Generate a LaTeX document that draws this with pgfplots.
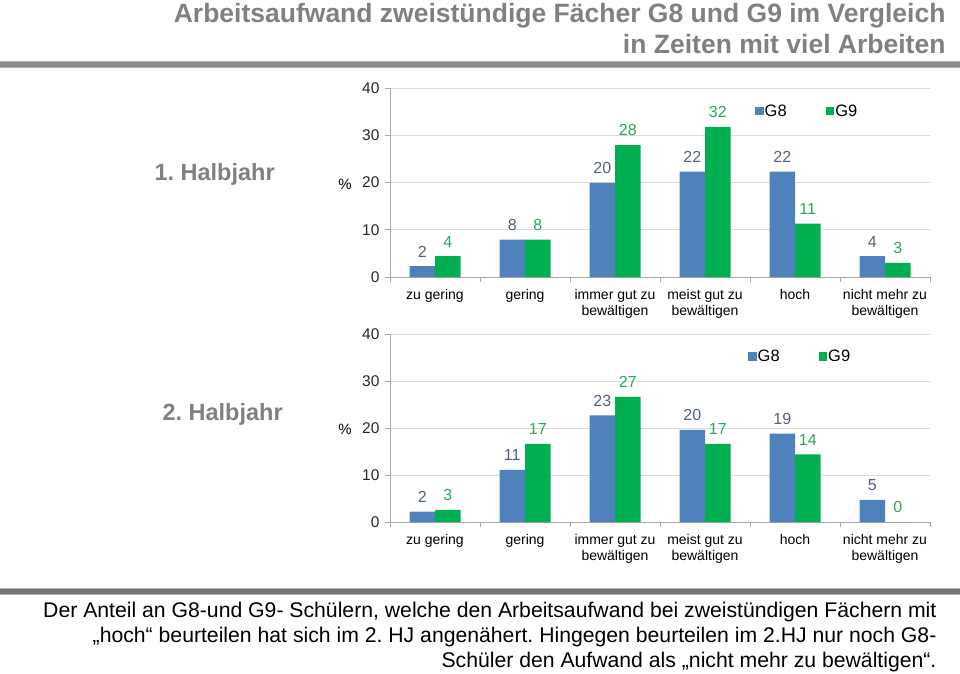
\documentclass[border=0pt]{standalone}
\usepackage{fontspec}
\setmainfont{Liberation Sans}
\usepackage{pgfplots}
\pgfplotsset{compat=1.18}
\frenchspacing
\definecolor{gEight}{HTML}{4F81BD}
\definecolor{gNine}{HTML}{00B050}
\definecolor{lEight}{HTML}{52607E}
\definecolor{lNine}{HTML}{2EA55A}
\definecolor{titlegray}{HTML}{808080}
\definecolor{gridgray}{HTML}{D9D9D9}
\definecolor{axgray}{HTML}{A6A6A6}
\definecolor{bandgray}{HTML}{8C8C8C}

\pgfplotstableread{
x g8 g9
0 2.3 4.4
1 7.9 7.9
2 19.9 27.9
3 22.3 31.8
4 22.3 11.3
5 4.4 3.0
}\tabA
\pgfplotstableread{
x g8 g9
0 2.2 2.6
1 11.1 16.6
2 22.7 26.6
3 19.6 16.6
4 18.8 14.4
5 4.7 0
}\tabB

\pgfplotsset{mychart/.style={
  scale only axis, width=540pt, height=#1,
  xmin=-0.5, xmax=5.5, ymin=0, ymax=40,
  ybar=0pt, bar width=25.5pt,
  axis x line*=bottom, axis y line*=left,
  axis line style={draw=axgray, line width=0.8pt},
  ytick={0,10,20,30,40},
  ymajorgrids, grid style={draw=gridgray, line width=0.8pt},
  tick align=outside,
  major tick length=5pt,
  tick style={draw=axgray, line width=0.8pt},
  yticklabel style={font=\fontsize{15.5}{18}\selectfont, text=black!85, xshift=-2pt},
  xtick={-0.5,0.5,1.5,2.5,3.5,4.5,5.5},
  xticklabels={},
  extra x ticks={0,1,2,3,4,5},
  extra x tick labels={zu gering, gering, {immer gut zu\\bewältigen}, {meist gut zu\\bewältigen}, hoch, {nicht mehr zu\\bewältigen}},
  extra x tick style={major tick length=0pt, xticklabel style={align=center, font=\fontsize{14}{16.3}\selectfont, text=black, yshift=-9pt}},
  /pgf/number format/assume math mode=true,
  /pgf/number format/fixed, /pgf/number format/precision=0,
  nodes near coords,
  every node near coord/.append style={font=\fontsize{16}{19}\selectfont, yshift=5.5pt},
  legend columns=2,
  legend image code/.code={\fill[##1, draw=none] (0pt,-4pt) rectangle (8.5pt,4.5pt);},
  legend style={draw=none, fill=none, anchor=west, font=\fontsize{16.5}{18}\selectfont,
     /tikz/every even column/.append style={column sep=38pt}, inner sep=0pt,
     nodes={inner sep=1pt}},
  clip=false,
}}

\begin{document}
\begin{tikzpicture}[x=1pt,y=1pt]
\useasboundingbox (0,0) rectangle (960,-673);
% title
\node[anchor=base east, text=titlegray, font=\fontsize{26.5}{30}\selectfont\bfseries] at (949,-22) {Arbeitsaufwand zweistündige Fächer G8 und G9 im Vergleich};
\node[anchor=base east, text=titlegray, font=\fontsize{26.5}{30}\selectfont\bfseries] at (949,-53) {in Zeiten mit viel Arbeiten};
% bands
\fill[black!30] (0,-60.5) rectangle (960,-67.5);
\fill[bandgray] (0,-61.5) rectangle (960,-66.5);
\fill[black!30] (0,-587.5) rectangle (960,-594.5);
\fill[black!55] (0,-588.5) rectangle (960,-593.5);
% side labels
\node[anchor=base west, text=titlegray, font=\fontsize{23.5}{26}\selectfont\bfseries] at (151,-180) {1. Halbjahr};
\node[anchor=base west, text=titlegray, font=\fontsize{23.5}{26}\selectfont\bfseries] at (159,-420) {2. Halbjahr};
\node[font=\fontsize{15}{18}\selectfont] at (345,-184) {\%};
\node[font=\fontsize{15}{18}\selectfont] at (345,-429) {\%};
% footer
\node[anchor=base east, font=\fontsize{21.2}{24}\selectfont] at (940,-617) {Der Anteil an G8-und G9- Schülern, welche den Arbeitsaufwand bei zweistündigen Fächern mit};
\node[anchor=base east, font=\fontsize{21.2}{24}\selectfont] at (940,-642) {„hoch“ beurteilen hat sich im 2. HJ angenähert. Hingegen beurteilen im 2.HJ nur noch G8-};
\node[anchor=base east, font=\fontsize{21.2}{24}\selectfont] at (940,-667) {Schüler den Aufwand als „nicht mehr zu bewältigen“.};

\begin{axis}[mychart=189pt, at={(390pt,-277pt)}, anchor=south west,
  legend style={at={(0.676,0.878)}}]
\addplot[fill=gEight, draw=none, every node near coord/.append style={text=lEight}] table[x=x,y=g8] {\tabA};
\addplot[fill=gNine, draw=none, every node near coord/.append style={text=lNine}] table[x=x,y=g9] {\tabA};
\legend{G8,G9}
\end{axis}

\begin{axis}[mychart=188pt, at={(390pt,-522pt)}, anchor=south west,
  legend style={at={(0.663,0.878)}}]
\addplot[fill=gEight, draw=none, every node near coord/.append style={text=lEight}] table[x=x,y=g8] {\tabB};
\addplot[fill=gNine, draw=none, every node near coord/.append style={text=lNine}] table[x=x,y=g9] {\tabB};
\legend{G8,G9}
\end{axis}
\end{tikzpicture}
\end{document}
